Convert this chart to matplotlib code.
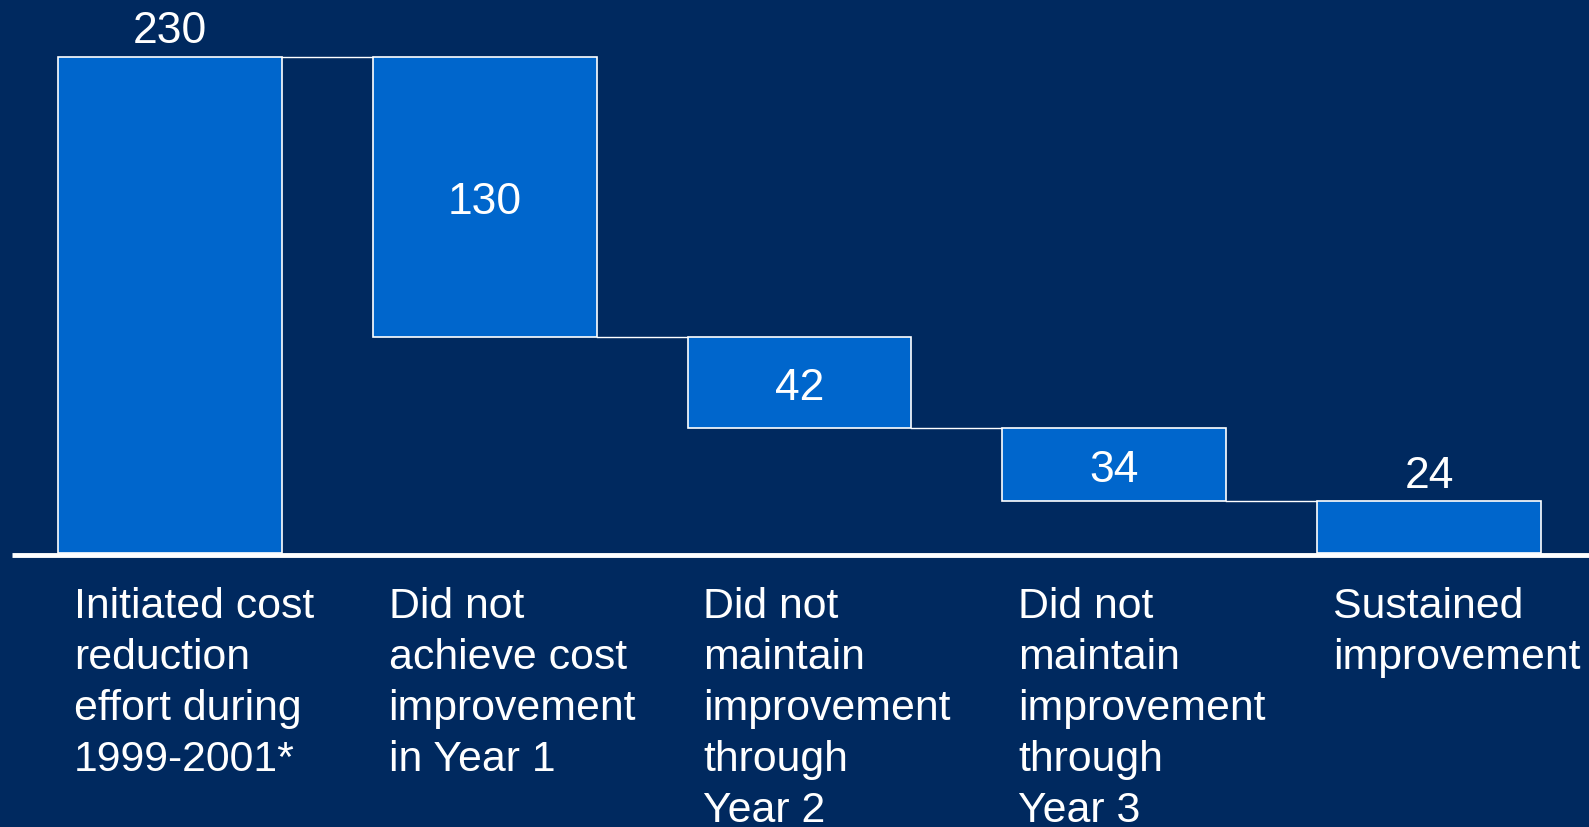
import matplotlib.pyplot as plt

labels = ["Initiated cost\nreduction\neffort during\n1999-2001*",
          "Did not\nachieve cost\nimprovement\nin Year 1",
          "Did not\nmaintain\nimprovement\nthrough\nYear 2",
          "Did not\nmaintain\nimprovement\nthrough\nYear 3",
          "Sustained\nimprovement"]
values = [230, 130, 42, 34, 24]
# first and last bars stand on the axis, the middle ones hang as drops
kinds = ["total", "drop", "drop", "drop", "total"]

bg = "#00295F"
bar_col = "#0066CC"

plt.rcParams['font.family'] = ['Liberation Sans', 'DejaVu Sans']

fig = plt.figure(figsize=(15.89, 8.27), dpi=100, facecolor=bg)
ax = fig.add_axes([0, 0, 1, 1])
ax.set_facecolor(bg)
ax.set_xlim(-0.539, 4.507)
ax.set_ylim(-126.8, 256.3)
ax.axis("off")

w = 0.711
level = 0
bottoms = []
for i, (v, k) in enumerate(zip(values, kinds)):
    if k == "total":
        b = 0
        level = v
    else:
        level = level - v
        b = level
    bottoms.append(b)
    ax.bar(i, v, width=w, bottom=b, color=bar_col, edgecolor="white", linewidth=1.2, zorder=2)
    if k == "total":
        ax.text(i, b + v + 2.3, str(v), ha="center", va="bottom", color="white", fontsize=32)
    else:
        ax.text(i, b + v / 2 - 2.6, str(v), ha="center", va="center", color="white", fontsize=32)
    ax.text(i - 0.305, -15.5, labels[i], ha="left", va="top", color="white", fontsize=30.8,
            linespacing=1.36)

# connectors between bars
for i in range(len(values) - 1):
    if kinds[i] == "total":
        y = bottoms[i] + values[i]
    else:
        y = bottoms[i]
    ax.plot([i + w / 2, i + 1 - w / 2], [y, y], color="white", linewidth=1.0, zorder=1)

ax.plot([-0.5, 4.6], [-1, -1], color="white", linewidth=3.5, zorder=3, solid_capstyle="butt")

fig.savefig("out.png", dpi=100, facecolor=bg)
